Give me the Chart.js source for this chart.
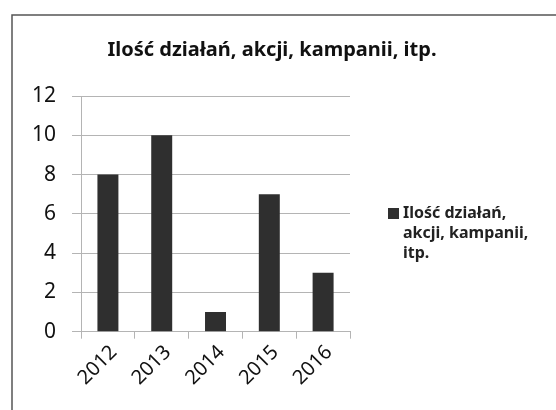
<!DOCTYPE html>
<html lang="pl">
<head>
    <meta charset="utf-8">
    <title>Ilość działań, akcji, kampanii, itp.</title>
    <script src="https://cdn.jsdelivr.net/npm/chart.js@4.4.1/dist/chart.umd.min.js"></script>
    <style>
        html, body { margin: 0; padding: 0; background: #fff; }
        #wrap { width: 556px; height: 410px; position: relative; }
    </style>
</head>
<body>
<div id="wrap">
    <canvas id="barChart" width="556" height="410"></canvas>
</div>
<script>
    const years = ['2012', '2013', '2014', '2015', '2016'];
    const counts = [8, 10, 1, 7, 3];
    const seriesName = 'Ilość działań, akcji, kampanii, itp.';
    const legendLines = ['Ilość działań,', 'akcji, kampanii,', 'itp.'];
    const yTicks = [0, 2, 4, 6, 8, 10, 12];

    const barColor = '#2f2f2f';
    const gridColor = '#b4b4b4';
    const font = '"Noto Sans", sans-serif';

    // frame, title and the wrapped legend on the right
    const framePlugin = {
        id: 'frame',
        beforeDraw(chart) {
            const ctx = chart.ctx;
            ctx.save();
            ctx.fillStyle = '#fff';
            ctx.fillRect(0, 0, chart.width, chart.height);
            ctx.strokeStyle = '#555';
            ctx.lineWidth = 1.5;
            ctx.beginPath();
            ctx.moveTo(12, 420);
            ctx.lineTo(12, 15);
            ctx.lineTo(560, 15);
            ctx.stroke();
            ctx.restore();
        },
        afterDraw(chart) {
            const ctx = chart.ctx;
            ctx.save();
            ctx.fillStyle = '#111';
            ctx.font = 'bold 20px ' + font;
            ctx.textAlign = 'center';
            ctx.textBaseline = 'middle';
            ctx.fillText(seriesName, 272, 50);

            ctx.fillStyle = barColor;
            ctx.fillRect(388, 208, 11, 11);
            ctx.fillStyle = '#222';
            ctx.font = 'bold 16px ' + font;
            ctx.textAlign = 'left';
            legendLines.forEach((line, i) => {
                ctx.fillText(line, 403, 213 + i * 20);
            });
            ctx.restore();
        }
    };

    const ctx = document.getElementById('barChart').getContext('2d');
    new Chart(ctx, {
        type: 'bar',
        data: {
            labels: years,
            datasets: [{
                label: seriesName,
                data: counts,
                backgroundColor: barColor,
                borderWidth: 0,
                categoryPercentage: 1.0,
                barPercentage: 0.39
            }]
        },
        options: {
            responsive: false,
            animation: false,
            layout: { padding: { left: 16, right: 206, top: 96, bottom: 18 } },
            plugins: {
                legend: { display: false },
                tooltip: { enabled: false },
                title: { display: false }
            },
            scales: {
                x: {
                    grid: { display: true, offset: true, drawOnChartArea: false, color: gridColor, tickLength: 7 },
                    border: { color: gridColor },
                    ticks: {
                        color: '#111',
                        minRotation: 45, maxRotation: 45,
                        labelOffset: 6,
                        padding: 2,
                        font: { family: font, size: 20 }
                    }
                },
                y: {
                    min: 0, max: 12,
                    afterBuildTicks(axis) { axis.ticks = yTicks.map(v => ({ value: v })); },
                    grid: { color: gridColor, tickLength: 9 },
                    border: { color: gridColor },
                    ticks: {
                        color: '#111',
                        padding: 16,
                        font: { family: font, size: 21 }
                    }
                }
            }
        },
        plugins: [framePlugin]
    });
</script>
</body>
</html>
